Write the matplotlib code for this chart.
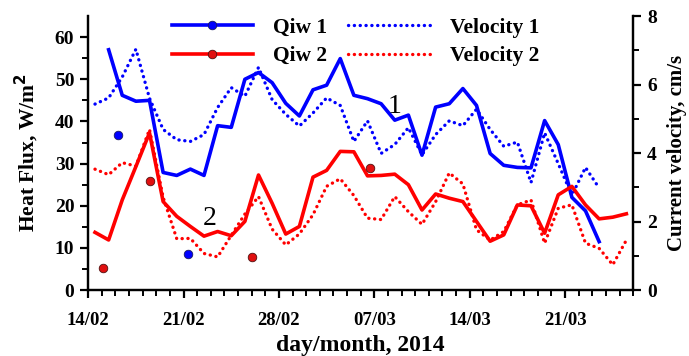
import matplotlib.pyplot as plt
import matplotlib.dates as mdates
from matplotlib.legend_handler import HandlerTuple
import numpy as np
import pandas as pd

plt.rcParams['font.family'] = ['Liberation Serif', 'DejaVu Serif']
plt.rcParams['font.weight'] = 'bold'

# daily values (noon), heat flux W/m2
qiw1 = [57.0, 46.2, 44.8, 45.0, 27.9, 27.2, 28.7, 27.2, 39.0, 38.6,
        50.0, 51.6, 49.2, 44.3, 41.3, 47.5, 48.6, 54.9, 46.2, 45.4,
        44.2, 40.3, 41.5, 32.0, 43.4, 44.2, 47.8, 43.8, 32.4, 29.6,
        29.1, 29.0, 40.2, 34.5, 22.0, 18.8, 11.5]
qiw2 = [13.7, 11.9, 21.4, 29.3, 37.3, 21.0, 17.5, 15.1, 12.8, 13.9,
        12.9, 16.3, 27.3, 20.6, 13.3, 15.1, 26.8, 28.4, 32.9, 32.8,
        27.1, 27.2, 27.5, 25.0, 19.0, 22.8, 21.8, 21.0, 16.3, 11.6,
        13.1, 20.2, 20.0, 13.5, 22.6, 24.6, 20.2, 16.9, 17.3, 18.1]

# current velocity, cm/s
vel1 = [5.43, 5.61, 6.22, 7.03, 5.60, 4.69, 4.39, 4.34, 4.54, 5.33,
        5.91, 5.66, 6.50, 5.56, 5.13, 4.79, 5.17, 5.61, 5.39, 4.34,
        4.94, 3.99, 4.25, 4.74, 3.95, 4.54, 4.94, 4.80, 5.28, 4.69,
        4.20, 4.32, 3.14, 4.59, 3.69, 2.77, 3.58, 2.98]
vel2 = [3.53, 3.37, 3.72, 3.62, 4.69, 2.71, 1.50, 1.51, 1.07, 0.97,
        1.60, 2.22, 2.73, 1.78, 1.32, 1.64, 2.20, 3.03, 3.25, 2.76,
        2.10, 2.06, 2.73, 2.29, 1.92, 2.58, 3.42, 3.10, 1.76, 1.46,
        1.71, 2.49, 2.63, 1.37, 2.39, 2.49, 1.37, 1.22, 0.74, 1.46]

# direct measurements
pts1_time = ['2014-02-16 04:00', '2014-02-21 07:00']
pts1_q = [36.9, 8.6]
pts2_time = ['2014-02-15 02:00', '2014-02-18 12:00', '2014-02-26 00:00', '2014-03-06 16:00']
pts2_q = [5.3, 25.8, 7.9, 29.0]

t_q1 = pd.date_range('2014-02-15 12:00', periods=len(qiw1), freq='D')
t_q2 = pd.date_range('2014-02-14 12:00', periods=len(qiw2), freq='D')
t_v1 = pd.date_range('2014-02-14 12:00', periods=len(vel1), freq='D')
t_v2 = pd.date_range('2014-02-14 12:00', periods=len(vel2), freq='D')

fig, ax = plt.subplots(figsize=(6.89, 3.56), dpi=100)
fig.subplots_adjust(left=0.128, right=0.919, bottom=0.185, top=0.955)
ax2 = ax.twinx()

dot = (0, (0.05, 1.7))
v1, = ax2.plot(t_v1, vel1, color='#0000ff', lw=2.4, ls=dot, dash_capstyle='round')
v2, = ax2.plot(t_v2, vel2, color='#ff0000', lw=2.4, ls=dot, dash_capstyle='round')

l1, = ax.plot(t_q1, qiw1, color='#0000ff', lw=2.6)
l2, = ax.plot(t_q2, qiw2, color='#ff0000', lw=2.6)
s1 = ax.scatter(pd.to_datetime(pts1_time), pts1_q, s=38, color='#0000ff', edgecolor='#1a1a60', lw=0.6, zorder=5)
s2 = ax.scatter(pd.to_datetime(pts2_time), pts2_q, s=38, color='#e01010', edgecolor='#501010', lw=0.6, zorder=5)
ax.set_zorder(ax2.get_zorder() + 1)
ax.patch.set_visible(False)

ax.set_xlim(pd.Timestamp('2014-02-14'), pd.Timestamp('2014-03-26'))
ax.set_ylim(0, 65)
ax2.set_ylim(0, 8)

ax.xaxis.set_major_locator(mdates.DayLocator(bymonthday=[14, 21, 28, 7]))
ax.xaxis.set_major_formatter(mdates.DateFormatter('%d/%m'))
ax.xaxis.set_minor_locator(mdates.DayLocator())
ax.set_yticks(np.arange(0, 61, 10))
ax.set_yticks(np.arange(5, 65, 5), minor=True)
ax2.set_yticks(np.arange(0, 9, 2))
ax2.set_yticks(np.arange(1, 8, 2), minor=True)

for a in (ax, ax2):
    a.spines['top'].set_visible(False)
    for s in a.spines.values():
        s.set_linewidth(1.6)
    a.tick_params(which='major', length=6, width=1.6, labelsize=14, direction='out', pad=4)
    a.tick_params(which='minor', length=4, width=1.4, direction='out')
ax.tick_params(axis='x', labelsize=13.5, pad=10)

ax.set_xlabel('day/month, 2014', fontsize=17, fontweight='bold', labelpad=4)
ax.set_ylabel('Heat Flux, W/m$^\\mathbf{2}$', fontsize=15.5, fontweight='bold', labelpad=10)
ax2.set_ylabel('Current velocity, cm/s', fontsize=15, fontweight='bold', labelpad=7)

ax.text(pd.Timestamp('2014-03-08 00:00'), 42.0, '1', fontsize=20, fontweight='normal')
ax.text(pd.Timestamp('2014-02-22 10:00'), 15.5, '2', fontsize=20, fontweight='normal')

ax.legend([(l1, s1), (l2, s2), v1, v2], ['Qiw 1', 'Qiw 2', 'Velocity 1', 'Velocity 2'],
          handler_map={tuple: HandlerTuple(ndivide=1)}, scatterpoints=1, scatteryoffsets=[0.5],
          ncol=2, frameon=False, loc='upper center', bbox_to_anchor=(0.49, 1.065),
          prop={'size': 15.5, 'weight': 'bold'}, handlelength=3.8, columnspacing=1.0,
          handletextpad=0.9, labelspacing=0.4)

fig.savefig('out.png', dpi=100)
